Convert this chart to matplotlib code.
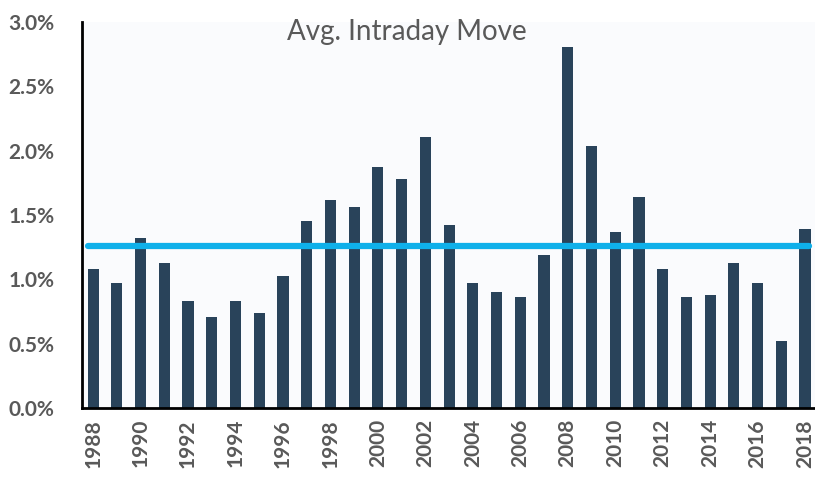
import numpy as np
from matplotlib import pyplot as plt
from matplotlib.ticker import FuncFormatter

years = list(range(1988, 2019))
avg_move = [
    1.08, 0.97, 1.32, 1.13, 0.83, 0.71, 0.83, 0.74, 1.03, 1.45,
    1.62, 1.56, 1.87, 1.78, 2.11, 1.42, 0.97, 0.90, 0.86, 1.19,
    2.81, 2.04, 1.37, 1.64, 1.08, 0.86, 0.88, 1.13, 0.97, 0.52,
    1.39,
]
long_run_avg = 1.26
tick_years = years[::2]

bar_color = "#29435a"
line_color = "#0fb0ea"
text_color = "#595959"


def main():
    plt.rcParams["font.family"] = ["Lato", "DejaVu Sans"]
    fig = plt.figure(figsize=(8.15, 4.8), dpi=100)
    fig.patch.set_facecolor("white")
    ax = fig.add_axes([0.1006, 0.15, 0.8994, 0.804])
    ax.set_facecolor("#fafbfd")

    x = np.arange(len(years))
    ax.bar(x, avg_move, width=0.47, color=bar_color, zorder=2)
    ax.plot([x[0] - 0.22, x[-1] + 0.15], [long_run_avg, long_run_avg],
            color=line_color, lw=4.5, zorder=3, solid_capstyle="round")

    ax.set_xlim(-0.47, 30.42)
    ax.set_ylim(0, 3.0)
    ax.set_yticks(np.arange(0, 3.01, 0.5))
    ax.yaxis.set_major_formatter(FuncFormatter(lambda v, p: f"{v:.1f}%"))
    ax.set_xticks([years.index(y) for y in tick_years])
    ax.set_xticklabels([str(y) for y in tick_years], rotation=90)

    ax.tick_params(axis="both", length=0, labelsize=15, labelcolor=text_color)
    ax.tick_params(axis="y", pad=20)
    ax.tick_params(axis="x", pad=8)
    for lab in ax.get_xticklabels() + ax.get_yticklabels():
        lab.set_fontweight("bold")

    for side in ("top", "right"):
        ax.spines[side].set_visible(False)
    ax.spines["left"].set_linewidth(2)
    ax.spines["bottom"].set_linewidth(2)
    ax.spines["left"].set_color("black")
    ax.spines["bottom"].set_color("black")

    ax.text(0.443, 0.973, "Avg. Intraday Move", transform=ax.transAxes,
            ha="center", va="center", fontsize=20, color=text_color)

    plt.savefig("out.png", dpi=100)


if __name__ == "__main__":
    main()
